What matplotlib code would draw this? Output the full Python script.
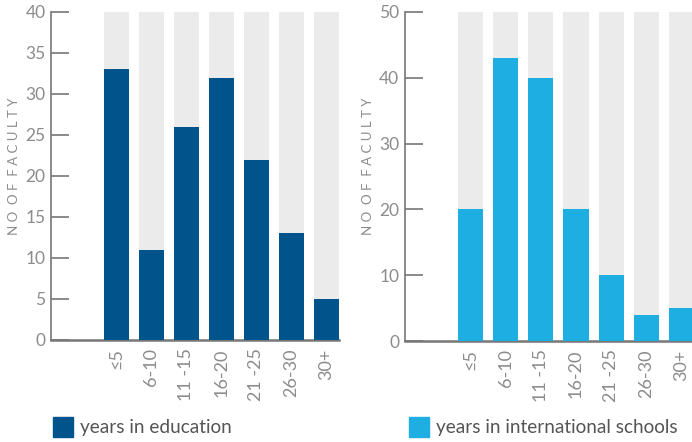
import matplotlib
matplotlib.use('Agg')
import numpy as np
import matplotlib.pyplot as plt
from matplotlib.patches import Rectangle

categories = ['≤5', '6-10', '11 -15', '16-20', '21 -25', '26-30', '30+']
years_education = [33, 11, 26, 32, 22, 13, 5]
years_international = [20, 43, 40, 20, 10, 4, 5]

DARK_BLUE = '#00548c'
LIGHT_BLUE = '#1eaee2'
BG_GRAY = '#ebebeb'
AXIS_GRAY = '#777777'
TEXT_GRAY = '#8c8c8c'

plt.rcParams['font.family'] = ['Lato', 'DejaVu Sans']

fig = plt.figure(figsize=(6.92, 4.42), dpi=100)


def draw_panel(rect, values, ymax, yticks, color, xright):
    ax = fig.add_axes(rect)
    x = np.arange(len(categories))
    ax.bar(x, [ymax] * len(values), width=0.714, color=BG_GRAY, zorder=1)
    ax.bar(x, values, width=0.714, color=color, zorder=2)
    ax.set_xlim(-1.87, xright)
    ax.set_ylim(0, ymax)
    ax.set_yticks(yticks)
    ax.set_xticks(x)
    ax.set_xticklabels(categories, rotation=90, color=TEXT_GRAY, fontsize=13)
    ax.tick_params(axis='x', length=0, pad=6)
    ax.tick_params(axis='y', direction='in', length=13, width=1.2,
                   color=AXIS_GRAY, labelcolor=TEXT_GRAY, labelsize=12.5, pad=4)
    for s in ['top', 'right']:
        ax.spines[s].set_visible(False)
    ax.spines['left'].set_color(AXIS_GRAY)
    ax.spines['left'].set_linewidth(1.2)
    ax.spines['bottom'].set_color(AXIS_GRAY)
    ax.spines['bottom'].set_linewidth(1.8)
    ax.spines['bottom'].set_zorder(0)
    ax.set_ylabel('N O  O F  F A C U L T Y', color=TEXT_GRAY, fontsize=9.5)
    ax.yaxis.set_label_coords(-0.106, 0.53)
    ax.patch.set_alpha(0)
    return ax


ax1 = draw_panel([0.0737, 0.2308, 0.4163, 0.7421], years_education, 40,
                 range(0, 41, 5), DARK_BLUE, 6.36)
ax2 = draw_panel([0.585, 0.2285, 0.415, 0.7444], years_international, 50,
                 range(0, 51, 10), LIGHT_BLUE, 6.3)

# legends
for x0, color, label in [(53, DARK_BLUE, 'years in education'),
                         (409, LIGHT_BLUE, 'years in international schools')]:
    fig.add_artist(Rectangle((x0 / 692, 5 / 442), 20 / 692, 20 / 442,
                             transform=fig.transFigure, color=color))
    fig.text((x0 + 27) / 692, 15 / 442, label, color='#555555',
             fontsize=13.7, va='center', ha='left')

fig.savefig('out.png', dpi=100)
